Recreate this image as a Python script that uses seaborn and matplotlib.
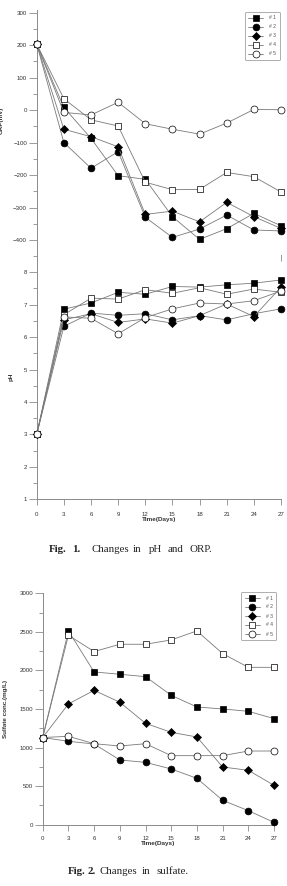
import matplotlib
matplotlib.use("Agg")
import matplotlib.pyplot as plt
from matplotlib.ticker import MultipleLocator
import pandas as pd
import seaborn as sns

# ---------------------------------------------------------------------
# data
# ---------------------------------------------------------------------
days = [0, 3, 6, 9, 12, 15, 18, 21, 24, 27]
series_names = ["# 1", "# 2", "# 3", "# 4", "# 5"]

orp_1 = [203, 8, -87, -202, -213, -328, -398, -365, -318, -356]
orp_2 = [203, -100, -179, -128, -330, -392, -366, -323, -369, -372]
orp_3 = [203, -59, -82, -113, -321, -311, -344, -284, -328, -364]
orp_4 = [203, 35, -30, -49, -222, -245, -244, -192, -205, -252]
orp_5 = [203, -7, -15, 24, -42, -59, -74, -40, 2, 1]

ph_1 = [3, 6.86, 7.05, 7.38, 7.32, 7.56, 7.54, 7.61, 7.66, 7.76]
ph_2 = [3, 6.33, 6.74, 6.67, 6.72, 6.53, 6.66, 6.53, 6.72, 6.87]
ph_3 = [3, 6.53, 6.72, 6.45, 6.56, 6.43, 6.66, 7.02, 6.63, 7.54]
ph_4 = [3, 6.69, 7.20, 7.17, 7.46, 7.35, 7.52, 7.32, 7.48, 7.38]
ph_5 = [3, 6.62, 6.58, 6.10, 6.60, 6.87, 7.05, 7.02, 7.12, 7.42]

sulfate_1 = [1130, 2512, 1980, 1950, 1919, 1677, 1526, 1500, 1470, 1375]
sulfate_2 = [1130, 1081, 1046, 839, 808, 722, 601, 316, 182, 30]
sulfate_3 = [1130, 1565, 1742, 1587, 1314, 1197, 1137, 748, 705, 510]
sulfate_4 = [1130, 2455, 2244, 2339, 2339, 2395, 2512, 2218, 2040, 2040]
sulfate_5 = [1130, 1146, 1050, 1020, 1050, 895, 895, 895, 955, 955]

xticks = [0, 3, 6, 9, 12, 15, 18, 21, 24, 27]

# caption words (journal text is justified, so words are placed one by one)
caption_1 = [("Fig.", True), ("1.", True), ("Changes", False), ("in", False),
             ("pH", False), ("and", False), ("ORP.", False)]
caption_1_x = [49, 72.5, 91.5, 133, 149, 168, 190]
caption_2 = [("Fig.", True), ("2.", True), ("Changes", False), ("in", False),
             ("sulfate.", False)]
caption_2_x = [68, 87, 99, 141.5, 156.5]


def long_table(cols):
    frames = []
    for name, vals in zip(series_names, cols):
        frames.append(pd.DataFrame({"day": days, "value": vals, "series": name}))
    return pd.concat(frames, ignore_index=True)


df_orp = long_table([orp_1, orp_2, orp_3, orp_4, orp_5])
df_ph = long_table([ph_1, ph_2, ph_3, ph_4, ph_5])
df_sulfate = long_table([sulfate_1, sulfate_2, sulfate_3, sulfate_4, sulfate_5])

# ---------------------------------------------------------------------
# styling
# ---------------------------------------------------------------------
sns.set_style("white")
plt.rcParams["font.family"] = ["Liberation Sans", "DejaVu Sans"]

AXIS_GREY = "#8a8a8a"
LINE_GREY = "#7a7a7a"
TEXT = "#333333"
TICK_FS = 4.4

marker_style = {
    "# 1": dict(marker="s", markersize=4.6, markerfacecolor="black"),
    "# 2": dict(marker="o", markersize=4.9, markerfacecolor="black"),
    "# 3": dict(marker="D", markersize=3.6, markerfacecolor="black"),
    "# 4": dict(marker="s", markersize=4.6, markerfacecolor="white"),
    "# 5": dict(marker="o", markersize=5.0, markerfacecolor="white"),
}


def draw_series(ax, df):
    for name in series_names:
        sub = df[df["series"] == name]
        sns.lineplot(data=sub, x="day", y="value", ax=ax, color=LINE_GREY,
                     linewidth=0.6, markeredgecolor="black", markeredgewidth=0.5,
                     clip_on=False, label=name, legend=False, zorder=3,
                     **marker_style[name])


def style_axis(ax, ymajor, yminor, ylim):
    ax.set_xlim(0, 27)
    ax.set_ylim(*ylim)
    ax.yaxis.set_major_locator(MultipleLocator(ymajor))
    ax.yaxis.set_minor_locator(MultipleLocator(yminor))
    ax.set_xticks(xticks)
    for side in ["top", "right"]:
        ax.spines[side].set_visible(False)
    for side in ["left", "bottom"]:
        ax.spines[side].set_color(AXIS_GREY)
        ax.spines[side].set_linewidth(0.7)
    ax.tick_params(axis="both", which="both", direction="out", colors=AXIS_GREY,
                   labelcolor=TEXT, labelsize=TICK_FS, width=0.6)
    ax.tick_params(axis="y", which="major", length=5.5, pad=1.5, left=True)
    ax.tick_params(axis="y", which="minor", length=2.8, left=True)
    ax.tick_params(axis="x", which="major", length=4.5, pad=4.5, bottom=True)
    ax.grid(False)
    ax.set_facecolor("white")


def add_legend(ax, anchor, fig):
    leg = ax.legend(loc="upper right", bbox_to_anchor=anchor,
                    bbox_transform=fig.transFigure, fontsize=3.6,
                    frameon=True, fancybox=True, handlelength=3.0,
                    handletextpad=1.2, labelspacing=0.8, borderpad=0.7,
                    borderaxespad=0)
    leg.get_frame().set_edgecolor(AXIS_GREY)
    leg.get_frame().set_linewidth(0.6)
    for t in leg.get_texts():
        t.set_color("#555555")
    return leg


def add_caption(fig, words, xs, y_px):
    for (word, bold), x in zip(words, xs):
        fig.text(x / 287, 1 - y_px / 886, word, fontsize=7.8,
                 fontweight="bold" if bold else "normal",
                 family=["Liberation Serif", "DejaVu Serif"],
                 va="center", ha="left", color="#222222")


fig = plt.figure(figsize=(2.87, 8.86), dpi=100)

# ORP panel
ax_orp = fig.add_axes([0.128, 0.7122, 0.851, 0.2765])
draw_series(ax_orp, df_orp)
style_axis(ax_orp, 100, 50, (-446, 308))
ax_orp.tick_params(axis="x", labelbottom=False, length=4.5)
ax_orp.set_xlabel("")
ax_orp.set_ylabel("ORP(mV)", fontsize=4.5, fontweight="bold", color=TEXT)
ax_orp.yaxis.set_label_coords(-0.135, 0.55)
add_legend(ax_orp, (0.9756, 0.9865), fig)

# pH panel
ax_ph = fig.add_axes([0.128, 0.4365, 0.851, 0.2757])
draw_series(ax_ph, df_ph)
style_axis(ax_ph, 1, 0.5, (1, 8.53))
ax_ph.set_xlabel("Time(Days)", fontsize=4.6, fontweight="bold", color=TEXT, labelpad=0.5)
ax_ph.set_ylabel("pH", fontsize=4.6, fontweight="bold", color=TEXT)
ax_ph.yaxis.set_label_coords(-0.097, 0.5)

# sulfate panel
ax_s = fig.add_axes([0.1488, 0.0692, 0.806, 0.2612])
draw_series(ax_s, df_sulfate)
style_axis(ax_s, 500, 250, (0, 3000))
ax_s.tick_params(axis="x", which="major", pad=3.5)
ax_s.set_xlabel("Time(Days)", fontsize=4.6, fontweight="bold", color=TEXT, labelpad=0.5)
ax_s.set_ylabel("Sulfate conc.(mg/L)", fontsize=4.5, fontweight="bold", color=TEXT)
ax_s.yaxis.set_label_coords(-0.149, 0.5)
add_legend(ax_s, (0.9617, 1 - 592 / 886), fig)

# captions
add_caption(fig, caption_1, caption_1_x, 550)
add_caption(fig, caption_2, caption_2_x, 871)

fig.savefig("out.png", dpi=100, facecolor="white")
